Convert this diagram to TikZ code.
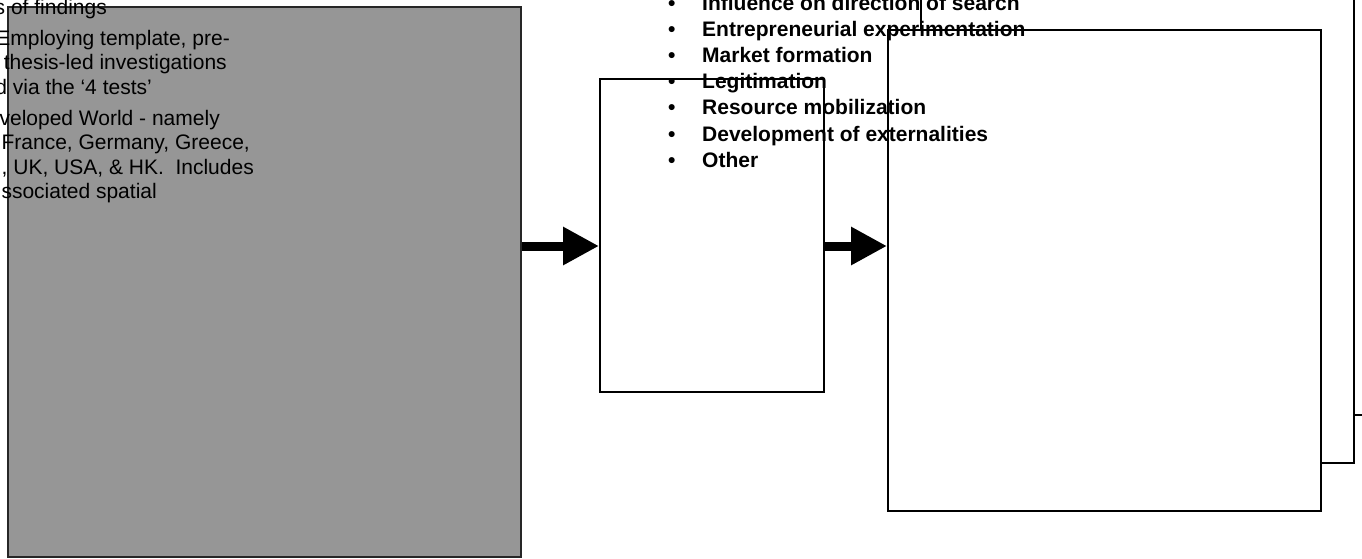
\documentclass[tikz,border=0pt]{standalone}
\usepackage{fontspec}
\setmainfont{Liberation Sans}
\usetikzlibrary{arrows.meta}
\definecolor{panelgray}{RGB}{150,150,150}
\begin{document}
\begin{tikzpicture}[x=1pt,y=-1pt,
  box/.style={draw=black,line width=1.6pt,inner sep=0pt,anchor=north west},
  card/.style={box,fill=white,minimum width=433pt,minimum height=481pt},
  bodytext/.style={inner sep=0pt,font=\fontsize{21}{25}\selectfont},
  listtext/.style={inner sep=0pt,anchor=base west,font=\fontsize{21}{25}\selectfont\bfseries},
  bigarrow/.style={line width=9pt,-{Triangle[length=36pt,width=36pt]}}]
\useasboundingbox (0,0) rectangle (1362,558);
\clip (0,0) rectangle (1362,558);

% grey panel on the left
\node[box,fill=panelgray,draw=black!85,minimum width=513pt,minimum height=550pt] (gray) at (7,6) {};

% text lines running over the grey panel
\node[bodytext,anchor=base east] (l1) at (107,14)   {s of findings};
\node[bodytext,anchor=base east] (l2) at (230,45)   {Employing template, pre-};
\node[bodytext,anchor=base east] (l3) at (227,69.5) {thesis-led investigations};
\node[bodytext,anchor=base east] (l4) at (152,94.5) {d via the ‘4 tests’};
\node[bodytext,anchor=base east] (l5) at (220,125)  {veloped World - namely};
\node[bodytext,anchor=base east] (l6) at (250,149.5){France, Germany, Greece,};
\node[bodytext,anchor=base east] (l7) at (254,174)  {, UK, USA, \&\ HK.\ \ Includes};
\node[bodytext,anchor=base east] (l8) at (157,198.5){ssociated spatial};

% middle box
\node[box,fill=white,minimum width=224pt,minimum height=313pt] (mid) at (599,78) {};

% stack of three cards on the right, back to front
\node[card] (cardC) at (953,-67) {};
\node[card] (cardB) at (920,-19) {};
\node[card] (cardA) at (887,29) {};

% arrows between the stages
\coordinate (ylevel) at (0,246);
\draw[bigarrow] (gray.east |- ylevel) -- (mid.west |- ylevel);
\draw[bigarrow] (mid.east |- ylevel) -- (cardA.west |- ylevel);

% bullet list
\foreach \name/\yy/\txt in {
    b1/10/Influence on direction of search,
    b2/36.2/Entrepreneurial experimentation,
    b3/62.4/Market formation,
    b4/88.6/Legitimation,
    b5/114.8/Resource mobilization,
    b6/141/Development of externalities,
    b7/167.2/Other} {
  \node[listtext] (\name dot) at (668,\yy) {•};
  \node[listtext] (\name) at (702,\yy) {\txt};
}
\end{tikzpicture}
\end{document}
